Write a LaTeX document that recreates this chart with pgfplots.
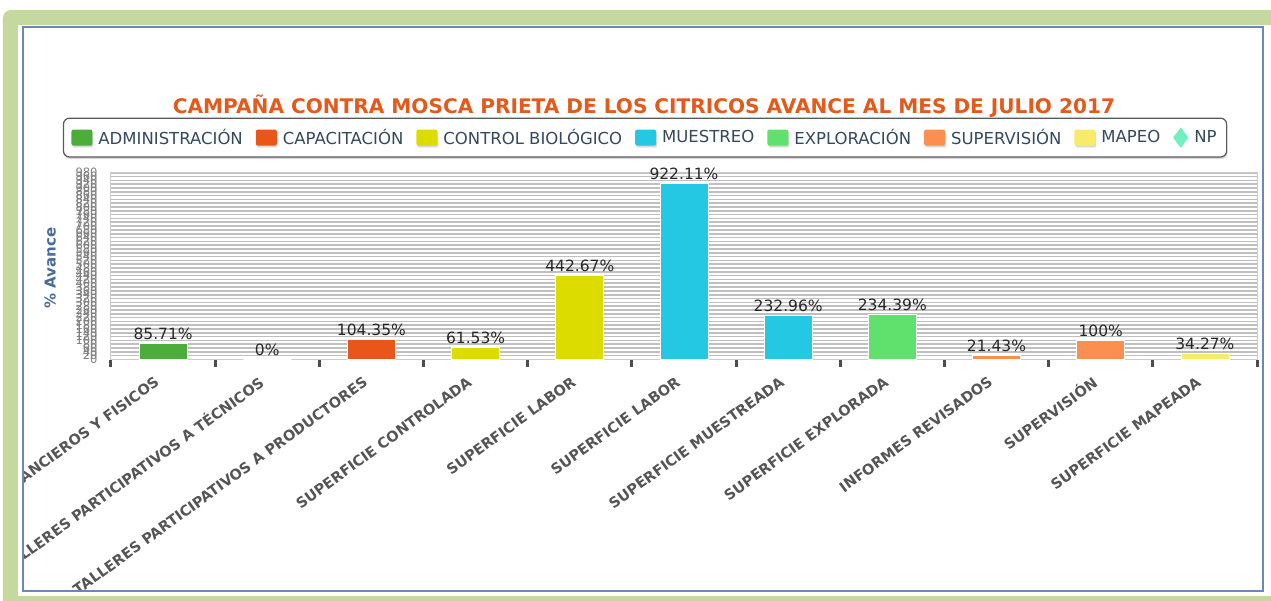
\documentclass[border=0pt]{standalone}
\usepackage{fontspec}
\setmainfont{DejaVu Sans}
\usepackage{pgfplots}
\pgfplotsset{compat=1.18}
\usetikzlibrary{shadows}
\definecolor{cAdm}{HTML}{4CAE3A}
\definecolor{cCap}{HTML}{E8561A}
\definecolor{cCtl}{HTML}{DCDC00}
\definecolor{cMue}{HTML}{24C8E2}
\definecolor{cExp}{HTML}{60E06C}
\definecolor{cSup}{HTML}{FA8F50}
\definecolor{cMap}{HTML}{F6EC6A}
\definecolor{cNP}{HTML}{70F0C0}
\definecolor{cTitle}{HTML}{E25A1C}
\definecolor{cFrame}{HTML}{C5D89E}
\definecolor{cPanel}{HTML}{6A88BA}
\definecolor{cLeg}{HTML}{34495E}
\definecolor{cLab}{HTML}{555555}
\definecolor{cYL}{HTML}{4A6A9A}
\pgfplotsset{
  sqbar/.style={ybar, bar width=48pt, bar shift=0pt, draw=white, line width=0.8pt,
    legend image code/.code={\fill[##1, draw=none, rounded corners=2pt] (0pt,-8pt) rectangle (21pt,8pt);}},
}
\begin{document}
\begin{tikzpicture}[x=1pt,y=1pt]
\begin{axis}[
  name=ax,
  scale only axis, width=1146pt, height=186.8pt,
  xmin=-0.5, xmax=10.5, ymin=0, ymax=980,
  /pgf/number format/assume math mode=true,
  ytick={0,20,...,980},
  ymajorgrids, major grid style={draw=gray!50, line width=1.6pt},
  axis line style={draw=gray!40, line width=1pt},
  major tick length=0pt,
  tick align=outside,
  xtick pos=bottom, ytick pos=left,
  minor xtick={-0.5,0.5,...,10.5},
  minor tick length=7pt,
  minor tick style={line width=3pt, draw=black!70},
  yticklabel style={font=\fontsize{11.5}{11.5}\selectfont, text=gray, xshift=-10pt},
  xtick={0,...,10},
  xticklabels={INFORMES FINANCIEROS Y FISICOS, TALLERES PARTICIPATIVOS A TÉCNICOS,
    TALLERES PARTICIPATIVOS A PRODUCTORES, SUPERFICIE CONTROLADA, SUPERFICIE LABOR,
    SUPERFICIE LABOR, SUPERFICIE MUESTREADA, SUPERFICIE EXPLORADA, INFORMES REVISADOS,
    SUPERVISIÓN, SUPERFICIE MAPEADA},
  xticklabel style={xshift=-5pt, yshift=-20pt, rotate=36, anchor=east, font=\bfseries\fontsize{14.5}{14.5}\selectfont, text=cLab, inner sep=1pt},
  ylabel={\% Avance},
  ylabel style={at={(axis description cs:-0.053,0.49)}, anchor=center, rotate=0,
    font=\bfseries\fontsize{15}{15}\selectfont, text=cYL},
  nodes near coords={\pgfmathprintnumber{\pgfplotspointmeta}\%},
  every node near coord/.append style={font=\fontsize{15.5}{15.5}\selectfont, text=black!85},
  legend style={at={(0.466,1.188)}, anchor=center, legend columns=-1,
    draw=gray!70!black, line width=1.2pt, rounded corners=6pt, fill=white,
    font=\fontsize{16.5}{16.5}\selectfont, text=cLeg,
    /tikz/every odd column/.append style={column sep=4pt},
    /tikz/every even column/.append style={column sep=11pt},
    inner xsep=8pt, inner ysep=9pt, drop shadow={opacity=0.3, shadow xshift=1pt, shadow yshift=-2pt}},
]
\addplot[sqbar, fill=cAdm] coordinates {(0,85.71)};
\addlegendentry{ADMINISTRACIÓN}
\addplot[sqbar, fill=cCap] coordinates {(1,0) (2,104.35)};
\addlegendentry{CAPACITACIÓN}
\addplot[sqbar, fill=cCtl] coordinates {(3,61.53) (4,442.67)};
\addlegendentry{CONTROL BIOLÓGICO}
\addplot[sqbar, fill=cMue] coordinates {(5,922.11) (6,232.96)};
\addlegendentry{MUESTREO}
\addplot[sqbar, fill=cExp] coordinates {(7,234.39)};
\addlegendentry{EXPLORACIÓN}
\addplot[sqbar, fill=cSup] coordinates {(8,21.43) (9,100)};
\addlegendentry{SUPERVISIÓN}
\addplot[sqbar, fill=cMap] coordinates {(10,34.27)};
\addlegendentry{MAPEO}
\addlegendimage{only marks, mark=diamond*, mark size=10pt, color=cNP, line width=0.1pt, mark options={draw=cNP, fill=cNP}}
\addlegendentry{NP}
\coordinate (O) at (rel axis cs:0,0);
\end{axis}
\begin{scope}[shift={(O)}, shift={(-111pt,-240.5pt)}]
  % cover overflow outside the panel
  \fill[white] (-600,-600) rectangle (22,1200);
  \fill[white] (-600,-600) rectangle (1900,8);
  \fill[white] (1264,-600) rectangle (1900,1200);
  \fill[white] (-600,574) rectangle (1900,1200);
  % green frame
  \begin{scope}
    \clip (0,0) rectangle (1271,600);
    \fill[cFrame, even odd rule, rounded corners=8pt] (3,-20) rectangle (1300,590)
      [sharp corners] (18,4) rectangle (1400,575);
  \end{scope}
  \draw[cPanel, line width=2pt] (23,9) rectangle (1263,573);
  \node[font=\bfseries\fontsize{20.1}{20.1}\selectfont, text=cTitle, anchor=base] at (644,486)
    {CAMPAÑA CONTRA MOSCA PRIETA DE LOS CITRICOS AVANCE AL MES DE JULIO 2017};
  \pgfresetboundingbox
  \path[use as bounding box] (0,0) rectangle (1271,600);
\end{scope}
\end{tikzpicture}
\end{document}
